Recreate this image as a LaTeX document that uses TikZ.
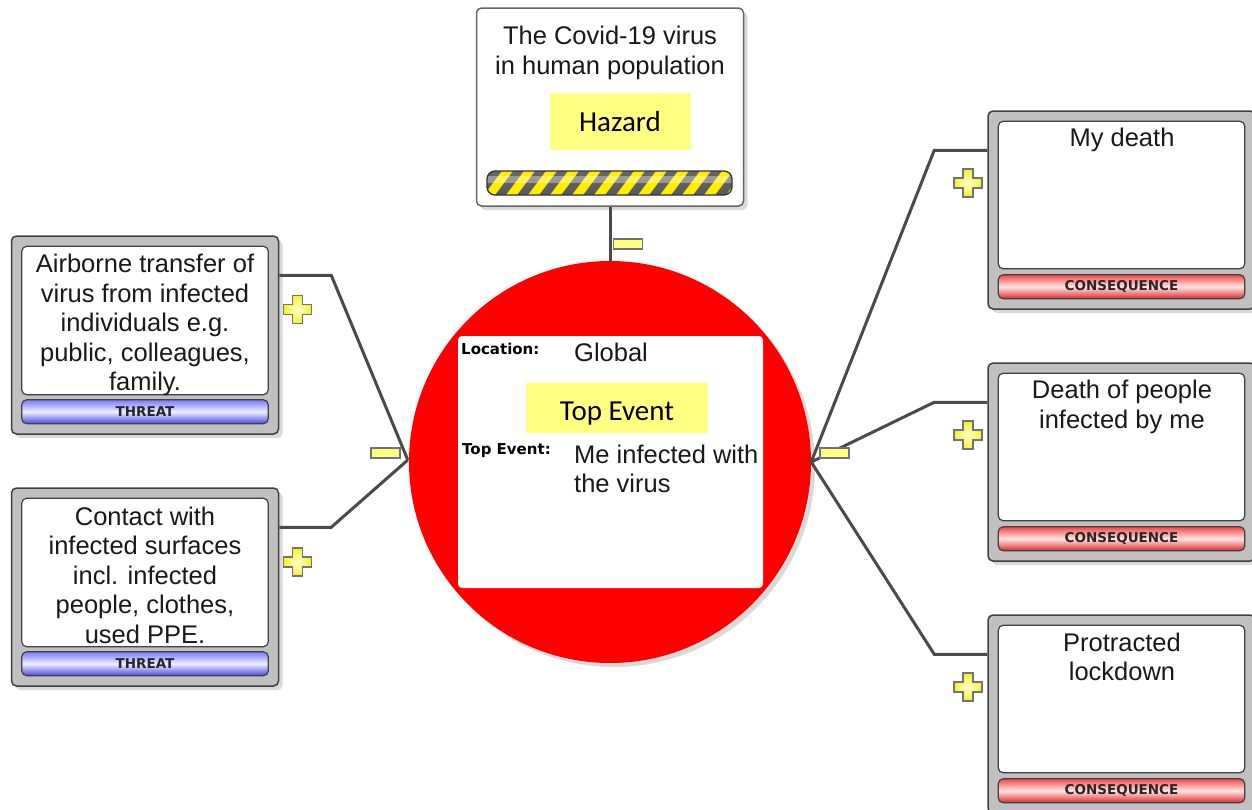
\documentclass[tikz,border=0pt]{standalone}
\usepackage{fontspec}
\setmainfont{Liberation Sans}
\newfontfamily\calibrifont{Carlito}
\newfontfamily\tagfont{DejaVu Sans}
\usetikzlibrary{shadows}

\definecolor{linegray}{HTML}{4A4A4A}
\definecolor{boxgray}{HTML}{C0C0C0}
\definecolor{labelyellow}{HTML}{FFFF80}
\definecolor{plusin}{HTML}{FFFFD0}
\definecolor{plusout}{HTML}{F2F22A}
\definecolor{threattop}{HTML}{7A7AFF}
\definecolor{threatmid}{HTML}{EEEEFF}
\definecolor{threatbot}{HTML}{4646E6}
\definecolor{constop}{HTML}{F04848}
\definecolor{consmid}{HTML}{FFE4E4}
\definecolor{consbot}{HTML}{E02828}

\begin{document}
\begin{tikzpicture}[x=1pt,y=-1pt]
\tikzstyle{outerbox} = [rectangle, rounded corners=5pt, draw=black!75, line width=1.5pt, fill=boxgray, minimum width=267pt, minimum height=198pt, drop shadow={opacity=0.3, shadow xshift=4pt, shadow yshift=-4pt}]
\tikzstyle{hazardbox} = [outerbox, fill=white, draw=black!60]
\tikzstyle{innerbox} = [rounded corners=5pt, draw=black!75, line width=1.2pt, fill=white]
\tikzstyle{threatbar} = [rounded corners=5pt, draw=black!75, line width=1.2pt, top color=threattop, bottom color=threatbot, middle color=threatmid]
\tikzstyle{consbar} = [threatbar, top color=constop, bottom color=consbot, middle color=consmid]
\tikzstyle{boxtext} = [font=\fontsize{25.5}{29.5}\selectfont, align=center, inner sep=0pt, text=black!90]
\tikzstyle{bartext} = [font=\tagfont\bfseries\fontsize{13.5}{15}\selectfont, inner sep=0pt, text=black!85]
\tikzstyle{fieldtext} = [font=\tagfont\bfseries\fontsize{15}{17}\selectfont, inner sep=0pt, anchor=west]
\tikzstyle{yellowlabel} = [rectangle, fill=labelyellow, inner sep=0pt]
\tikzstyle{labeltext} = [inner sep=0pt, font=\calibrifont\fontsize{29}{33}\selectfont]
\tikzstyle{minusmark} = [rectangle, draw=black!55, line width=1.5pt, fill=labelyellow, minimum width=29pt, minimum height=10pt, inner sep=0pt]
\tikzstyle{plusmark} = [draw=black!55, line width=1.3pt, inner color=plusin, outer color=plusout]
\tikzstyle{edge} = [draw=linegray, line width=3pt]

\useasboundingbox (0,0) rectangle (1252,809);
% -----------------------------------
% Hazard
\node[hazardbox] (hazard) at (610,107) {};
\node[boxtext] (hazardtext) at (610,53) {The Covid-19 virus\\in human population};
\node[yellowlabel, minimum width=141pt, minimum height=57pt] (hazardlabel) at (620,121.5) {};
\node[labeltext] (hazardname) at (620,122) {Hazard};
\begin{scope}
\clip[rounded corners=8pt] (487,171) rectangle (732,195);
\shade[top color=black!60, middle color=black!8, bottom color=black!65] (487,171) rectangle (732,195);
\foreach \i in {0,...,11}
  \fill[yellow!95!orange] (484+22*\i,195) -- (495+22*\i,195) -- (513+22*\i,171) -- (502+22*\i,171) -- cycle;
\fill[white, opacity=0.35] (487,176) rectangle (732,183);
\end{scope}
\draw[rounded corners=8pt, draw=black!80, line width=1.3pt] (487,171) rectangle (732,195);

% -----------------------------------
% Top event
\node[circle, fill=red, minimum size=402pt, inner sep=0pt, drop shadow={opacity=0.3, shadow xshift=4pt, shadow yshift=-4pt}] (topevent) at (610,462) {};
\node[rectangle, rounded corners=4pt, fill=white, minimum width=305pt, minimum height=252pt] (eventbox) at (610.5,462) {};
\node[fieldtext] (location) at (461,349) {Location:};
\node[boxtext, anchor=west] (locvalue) at (574,352) {Global};
\node[yellowlabel, minimum width=182pt, minimum height=50pt] (toplabel) at (617,408) {};
\node[labeltext] (topname) at (617,414) {Top Event};
\node[fieldtext] (eventfield) at (462,451) {Top Event:};
\node[boxtext, align=left, anchor=north west] (eventvalue) at (574,444.5) {Me infected with\\the virus};

% -----------------------------------
% Threats
\node[outerbox] (threat1) at (145,335) {};
\node[outerbox] (threat2) at (145,587) {};
\foreach \b in {threat1,threat2} {
  \draw[innerbox] ([shift={(11,11)}]\b.north west) rectangle ([shift={(-11,-40)}]\b.south east);
  \draw[threatbar] ([shift={(11,-35)}]\b.south west) rectangle ([shift={(-11,-11)}]\b.south east);
  \node[bartext] at ([shift={(0,-23)}]\b.south) {THREAT};
}
\node[boxtext] (threat1text) at (145,325) {Airborne transfer of\\virus from infected\\individuals e.g.\\public, colleagues,\\family.};
\node[boxtext] (threat2text) at (145,575) {Contact with\\infected surfaces\\incl. infected\\people, clothes,\\used PPE.};

% -----------------------------------
% Consequences
\node[outerbox] (cons1) at (1121.5,210) {};
\node[outerbox] (cons2) at (1121.5,462) {};
\node[outerbox] (cons3) at (1121.5,714) {};
\foreach \b in {cons1,cons2,cons3} {
  \draw[innerbox] ([shift={(11,11)}]\b.north west) rectangle ([shift={(-11,-41)}]\b.south east);
  \draw[consbar] ([shift={(11,-35)}]\b.south west) rectangle ([shift={(-11,-11)}]\b.south east);
  \node[bartext] at ([shift={(0,-23)}]\b.south) {CONSEQUENCE};
}
\node[boxtext] (cons1text) at (1122,140) {My death};
\node[boxtext] (cons2text) at (1122,407) {Death of people\\infected by me};
\node[boxtext] (cons3text) at (1122,657) {Protracted\\lockdown};

% -----------------------------------
% connectors
\draw[edge] (hazard.south) -- (topevent.north);
\draw[edge] ([shift={(0,40)}]threat1.north east) -- ++(52,0) -- ([shift={(-1,-2)}]topevent.west);
\draw[edge] ([shift={(0,40)}]threat2.north east) -- ++(52,0) -- ([shift={(-1,-2)}]topevent.west);
\draw[edge] (topevent.east) -- ([shift={(-53,40)}]cons1.north west) -- ([shift={(0,40)}]cons1.north west);
\draw[edge] (topevent.east) -- ([shift={(-53,40)}]cons2.north west) -- ([shift={(0,40)}]cons2.north west);
\draw[edge] (topevent.east) -- ([shift={(-53,40)}]cons3.north west) -- ([shift={(0,40)}]cons3.north west);

% -----------------------------------
% barrier marks
\node[minusmark] (minustop) at (628,244) {};
\node[minusmark] (minusleft) at (385.5,453) {};
\node[minusmark] (minusright) at (834.5,453) {};
\foreach \px/\py in {297.5/309.5, 297.5/562, 968/183, 968/435, 968/687}
  \draw[plusmark, shift={(\px,\py)}] (-5,-14) -- (5,-14) -- (5,-5) -- (14,-5) -- (14,5) -- (5,5) -- (5,14) -- (-5,14) -- (-5,5) -- (-14,5) -- (-14,-5) -- (-5,-5) -- cycle;
% -----------------------------------
\end{tikzpicture}
\end{document}
